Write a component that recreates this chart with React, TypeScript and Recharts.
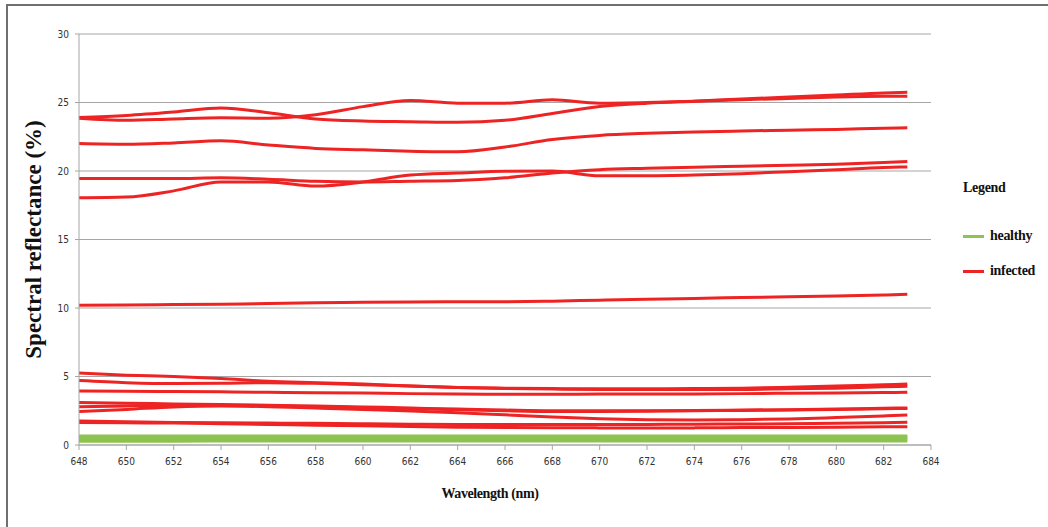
import { CartesianGrid, Label, Line, LineChart, XAxis, YAxis } from "recharts";

const wavelengths = [648, 650, 652, 654, 656, 658, 660, 662, 664, 666, 668, 670, 672, 674, 676, 678, 680, 682, 683];

const xTicks = [648, 650, 652, 654, 656, 658, 660, 662, 664, 666, 668, 670, 672, 674, 676, 678, 680, 682, 684];
const yTicks = [0, 5, 10, 15, 20, 25, 30];

// healthy leaves (green band near the bottom)
const healthy1 = [0.28, 0.28, 0.28, 0.29, 0.29, 0.29, 0.29, 0.3, 0.3, 0.3, 0.3, 0.3, 0.3, 0.3, 0.3, 0.3, 0.3, 0.3, 0.3];
const healthy2 = [0.42, 0.42, 0.42, 0.42, 0.42, 0.42, 0.42, 0.42, 0.42, 0.42, 0.42, 0.42, 0.42, 0.42, 0.42, 0.42, 0.42, 0.42, 0.42];
const healthy3 = [0.55, 0.55, 0.55, 0.55, 0.55, 0.55, 0.55, 0.55, 0.55, 0.55, 0.55, 0.55, 0.55, 0.55, 0.55, 0.55, 0.55, 0.55, 0.55];
const healthy4 = [0.66, 0.66, 0.66, 0.66, 0.66, 0.66, 0.65, 0.65, 0.65, 0.65, 0.65, 0.65, 0.65, 0.65, 0.65, 0.65, 0.65, 0.65, 0.65];

// infected leaves
const infectedA = [23.9, 24.05, 24.3, 24.6, 24.25, 23.8, 23.65, 23.6, 23.55, 23.7, 24.2, 24.7, 24.95, 25.1, 25.25, 25.4, 25.55, 25.7, 25.75];
const infectedB = [23.85, 23.7, 23.8, 23.88, 23.85, 24.1, 24.7, 25.15, 24.95, 24.95, 25.2, 24.95, 25.0, 25.1, 25.2, 25.3, 25.4, 25.45, 25.45];
const infectedC = [22.0, 21.95, 22.05, 22.2, 21.9, 21.65, 21.55, 21.45, 21.4, 21.75, 22.3, 22.6, 22.75, 22.85, 22.92, 22.98, 23.03, 23.12, 23.15];
const infectedD = [19.45, 19.45, 19.45, 19.5, 19.4, 19.25, 19.2, 19.25, 19.3, 19.5, 19.85, 20.1, 20.2, 20.28, 20.35, 20.42, 20.5, 20.62, 20.7];
const infectedE = [18.05, 18.1, 18.55, 19.2, 19.2, 18.9, 19.2, 19.7, 19.85, 19.98, 20.0, 19.65, 19.65, 19.7, 19.8, 19.95, 20.1, 20.25, 20.3];
const infectedF = [10.2, 10.22, 10.25, 10.28, 10.33, 10.38, 10.42, 10.44, 10.45, 10.46, 10.5, 10.57, 10.63, 10.7, 10.76, 10.82, 10.88, 10.95, 11.0];
const infectedG = [5.25, 5.1, 5.0, 4.85, 4.65, 4.55, 4.45, 4.3, 4.2, 4.15, 4.12, 4.1, 4.1, 4.12, 4.15, 4.22, 4.3, 4.4, 4.45];
const infectedH = [4.7, 4.55, 4.48, 4.5, 4.55, 4.5, 4.4, 4.3, 4.2, 4.12, 4.08, 4.05, 4.05, 4.05, 4.05, 4.1, 4.15, 4.25, 4.28];
const infectedI = [3.95, 3.92, 3.9, 3.88, 3.85, 3.82, 3.8, 3.75, 3.72, 3.7, 3.7, 3.72, 3.72, 3.73, 3.75, 3.78, 3.8, 3.83, 3.85];
const infectedJ = [3.1, 3.05, 3.0, 2.95, 2.9, 2.85, 2.78, 2.7, 2.62, 2.55, 2.5, 2.5, 2.5, 2.52, 2.55, 2.58, 2.62, 2.68, 2.7];
const infectedK = [2.8, 2.85, 2.88, 2.88, 2.85, 2.8, 2.72, 2.65, 2.58, 2.5, 2.45, 2.45, 2.47, 2.5, 2.52, 2.55, 2.6, 2.65, 2.66];
const infectedL = [2.45, 2.6, 2.78, 2.85, 2.8, 2.7, 2.6, 2.48, 2.35, 2.2, 2.05, 1.92, 1.85, 1.82, 1.85, 1.9, 2.0, 2.12, 2.19];
const infectedM = [1.75, 1.7, 1.65, 1.62, 1.6, 1.58, 1.55, 1.52, 1.5, 1.5, 1.5, 1.5, 1.5, 1.52, 1.53, 1.55, 1.58, 1.63, 1.66];
const infectedN = [1.65, 1.62, 1.6, 1.55, 1.5, 1.45, 1.4, 1.35, 1.3, 1.28, 1.26, 1.25, 1.25, 1.25, 1.27, 1.28, 1.3, 1.33, 1.34];

const GREEN = "#8dc350";
const RED = "#ee2424";

const series = [
  { key: "healthy1", values: healthy1, color: GREEN },
  { key: "healthy2", values: healthy2, color: GREEN },
  { key: "healthy3", values: healthy3, color: GREEN },
  { key: "healthy4", values: healthy4, color: GREEN },
  { key: "infectedA", values: infectedA, color: RED },
  { key: "infectedB", values: infectedB, color: RED },
  { key: "infectedC", values: infectedC, color: RED },
  { key: "infectedD", values: infectedD, color: RED },
  { key: "infectedE", values: infectedE, color: RED },
  { key: "infectedF", values: infectedF, color: RED },
  { key: "infectedG", values: infectedG, color: RED },
  { key: "infectedH", values: infectedH, color: RED },
  { key: "infectedI", values: infectedI, color: RED },
  { key: "infectedJ", values: infectedJ, color: RED },
  { key: "infectedK", values: infectedK, color: RED },
  { key: "infectedL", values: infectedL, color: RED },
  { key: "infectedM", values: infectedM, color: RED },
  { key: "infectedN", values: infectedN, color: RED },
];

const data = wavelengths.map((w, i) => {
  const row: Record<string, number> = { w };
  series.forEach((s) => (row[s.key] = s.values[i]));
  return row;
});

const serif = "'Liberation Serif', 'Times New Roman', serif";
const narrow = "'Liberation Sans Narrow', 'DejaVu Sans Condensed', sans-serif";
const tickStyle = { fill: "#333", fontSize: 10, fontFamily: narrow };

function LegendBox() {
  const text = { position: "absolute" as const, fontFamily: serif, fontWeight: 700, fontSize: 14, lineHeight: "16px", color: "#111", letterSpacing: -0.3 };
  return (
    <>
      <div style={{ ...text, left: 963, top: 180 }}>Legend</div>
      <div style={{ position: "absolute", left: 963, top: 235, width: 21, height: 3, background: GREEN }} />
      <div style={{ ...text, left: 990, top: 228 }}>healthy</div>
      <div style={{ position: "absolute", left: 963, top: 270, width: 21, height: 3, background: RED }} />
      <div style={{ ...text, left: 990, top: 263 }}>infected</div>
    </>
  );
}

export default function App() {
  return (
    <div style={{ position: "absolute", left: 0, top: 0, width: 1048, height: 527, background: "#fff", overflow: "hidden" }}>
      <div style={{ position: "absolute", left: 6, top: 4, width: 1042, height: 523, borderTop: "2px solid #707070", borderLeft: "2px solid #707070" }} />
      <LineChart width={1048} height={527} data={data} margin={{ top: 34, right: 117, left: 0, bottom: 52 }}>
        <CartesianGrid vertical={false} stroke="#a6a6a6" />
        <XAxis
          dataKey="w"
          type="number"
          domain={[648, 684]}
          ticks={xTicks}
          interval={0}
          stroke="#a6a6a6"
          tickSize={5}
          tickMargin={8}
          tick={tickStyle}
          height={30}
        >
          <Label value="Wavelength (nm)" position="bottom" offset={13} dx={-15} style={{ fontFamily: serif, fontWeight: 700, fontSize: 14, fill: "#111", letterSpacing: -0.4 }} />
        </XAxis>
        <YAxis
          type="number"
          domain={[0, 30]}
          ticks={yTicks}
          interval={0}
          stroke="#a6a6a6"
          tickSize={4}
          tickMargin={6}
          tick={tickStyle}
          width={79}
        >
          <Label value="Spectral reflectance (%)" angle={-90} position="insideLeft" offset={33} style={{ fontFamily: serif, fontWeight: 700, fontSize: 23, fill: "#111", textAnchor: "middle" }} />
        </YAxis>
        {series.map((s) => (
          <Line key={s.key} dataKey={s.key} type="monotone" stroke={s.color} strokeWidth={3} dot={false} activeDot={false} isAnimationActive={false} />
        ))}
      </LineChart>
      <LegendBox />
    </div>
  );
}
